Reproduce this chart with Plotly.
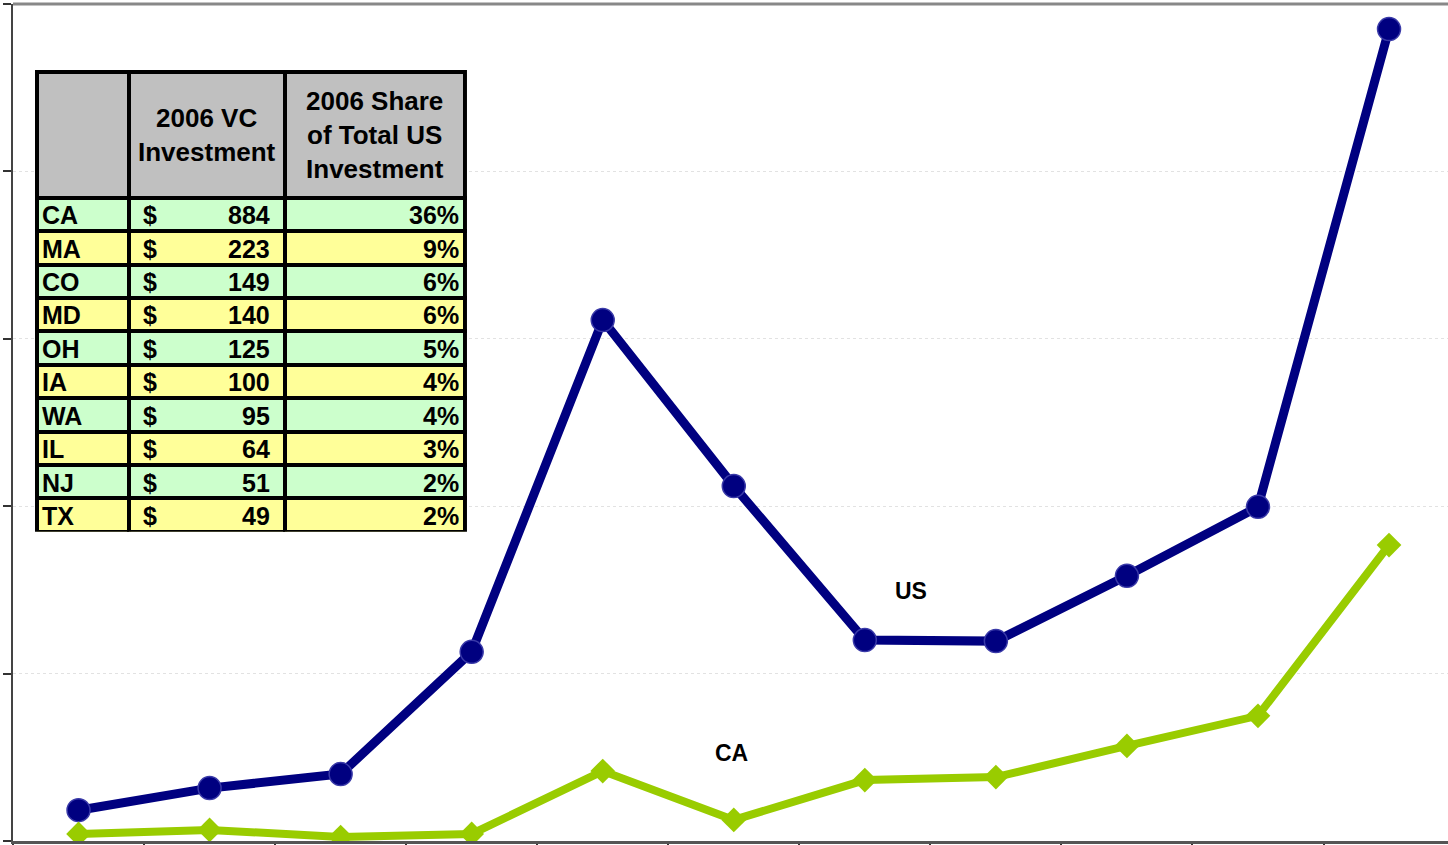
import plotly.graph_objects as go

# Chart data ($ millions of VC investment)
years = [1996, 1997, 1998, 1999, 2000, 2001, 2002, 2003, 2004, 2005, 2006]
us_values = [92, 158, 200, 565, 1556, 1060, 600, 597, 792, 998, 2425]
ca_values = [21, 33, 12, 21, 209, 63, 182, 191, 284, 374, 884]

# Inset table data
states = ["CA", "MA", "CO", "MD", "OH", "IA", "WA", "IL", "NJ", "TX"]
vc_2006 = [884, 223, 149, 140, 125, 100, 95, 64, 51, 49]
share_2006 = [36, 9, 6, 6, 5, 4, 4, 3, 2, 2]
headers = ["", "2006 VC<br>Investment", "2006 Share<br>of Total US<br>Investment"]

FONT = "Arial, Liberation Sans, sans-serif"
GREEN_ROW = "#CCFFCC"
YELLOW_ROW = "#FFFF99"

# table geometry (in table units, roughly px)
col_widths = [92, 156, 180]
header_h = 126
row_h = 33.4
tbl_x = [0.0167, 0.315]
tbl_y = [0.369, 0.919]

fig = go.Figure()

fig.add_trace(go.Scatter(
    x=years, y=us_values, mode="lines+markers", name="US",
    line=dict(color="#000080", width=9),
    marker=dict(symbol="circle", size=23, color="#000080",
                line=dict(color="#3a3aa8", width=1.5)),
    showlegend=False
))

fig.add_trace(go.Scatter(
    x=years, y=ca_values, mode="lines+markers", name="CA",
    line=dict(color="#99CC00", width=8),
    marker=dict(symbol="diamond", size=19, color="#99CC00"),
    showlegend=False
))

# Series labels
fig.add_annotation(x=2002.35, y=747, text="<b>US</b>", showarrow=False,
                   font=dict(family=FONT, size=23, color="black"))
fig.add_annotation(x=2000.98, y=263, text="<b>CA</b>", showarrow=False,
                   font=dict(family=FONT, size=23, color="black"))

# Inset table: fills and borders
row_fill = [GREEN_ROW if i % 2 == 0 else YELLOW_ROW for i in range(len(states))]
fig.add_trace(go.Table(
    domain=dict(x=tbl_x, y=tbl_y),
    columnwidth=col_widths,
    header=dict(
        values=["", "", ""],
        fill_color="#C0C0C0",
        line=dict(color="black", width=4),
        height=header_h,
    ),
    cells=dict(
        values=[[""] * len(states)] * 3,
        fill_color=[row_fill, row_fill, row_fill],
        line=dict(color="black", width=4),
        height=row_h,
    ),
))

# Inset table: text, placed on a hidden axis pair laid over the table
col_left = [sum(col_widths[:i]) for i in range(len(col_widths))]
tfont_h = dict(family=FONT, size=26, color="black")
tfont = dict(family=FONT, size=25, color="black")

for i, h in enumerate(headers):
    if h:
        fig.add_annotation(xref="x2", yref="y2", x=col_left[i] + col_widths[i] / 2,
                           y=header_h / 2, text=f"<b>{h}</b>", showarrow=False,
                           xanchor="center", yanchor="middle", font=tfont_h)

for r, (s, v, p) in enumerate(zip(states, vc_2006, share_2006)):
    yc = header_h + row_h * (r + 0.5) + 0.5
    fig.add_annotation(xref="x2", yref="y2", x=col_left[0] + 3, y=yc,
                       text=f"<b>{s}</b>", showarrow=False,
                       xanchor="left", yanchor="middle", font=tfont)
    fig.add_annotation(xref="x2", yref="y2", x=col_left[1] + 12, y=yc,
                       text="<b>$</b>", showarrow=False,
                       xanchor="left", yanchor="middle", font=tfont)
    fig.add_annotation(xref="x2", yref="y2", x=col_left[2] - 13, y=yc,
                       text=f"<b>{v}</b>", showarrow=False,
                       xanchor="right", yanchor="middle", font=tfont)
    fig.add_annotation(xref="x2", yref="y2", x=sum(col_widths) - 4, y=yc,
                       text=f"<b>{p}%</b>", showarrow=False,
                       xanchor="right", yanchor="middle", font=tfont)

fig.update_layout(
    xaxis=dict(
        range=[1995.5, 2006.45],
        tickvals=[y - 0.5 for y in years],
        showticklabels=False,
        ticks="outside", ticklen=5, tickwidth=1.5, tickcolor="#333",
        showgrid=False, zeroline=False,
        showline=True, linecolor="#555", linewidth=3,
    ),
    yaxis=dict(
        range=[0, 2500],
        dtick=500,
        showticklabels=False,
        ticks="outside", ticklen=8, tickwidth=1.5, tickcolor="#333",
        showgrid=True, gridcolor="#e2e2e2", griddash="dot", gridwidth=1,
        zeroline=False,
        showline=True, linecolor="#444", linewidth=2,
    ),
    xaxis2=dict(domain=tbl_x, range=[0, sum(col_widths)], anchor="y2",
                visible=False, fixedrange=True),
    yaxis2=dict(domain=tbl_y, range=[header_h + row_h * len(states), 0], anchor="x2",
                visible=False, fixedrange=True),
)

# Top border of the plot area
fig.add_shape(type="line", xref="paper", yref="paper", x0=0, x1=1, y0=1, y1=1,
              line=dict(color="#888", width=3))

fig.update_layout(
    width=1448, height=845,
    margin=dict(l=13, r=0, t=4, b=4),
    paper_bgcolor="white", plot_bgcolor="white",
    font=dict(family=FONT),
)

# drop the default page margin so the figure sits at the window origin
fig.write_html("out.html", config={"displayModeBar": False},
               post_script="document.body.style.margin='0';")
